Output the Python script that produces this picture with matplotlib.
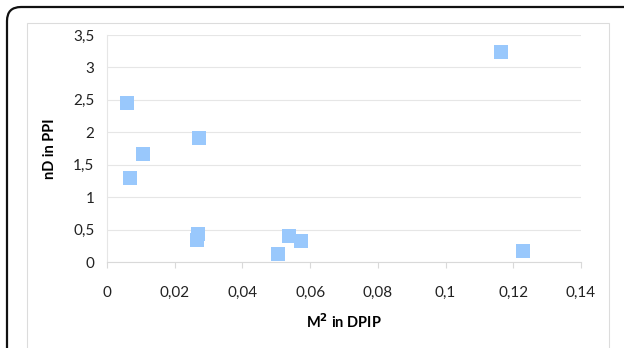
import matplotlib
matplotlib.use("Agg")
import matplotlib.pyplot as plt
from matplotlib.patches import PathPatch, Rectangle
from matplotlib.path import Path
from matplotlib.transforms import IdentityTransform

# data
m2_dpip = [0.0059, 0.0068, 0.0106, 0.0272, 0.0266, 0.0270, 0.0505, 0.0538, 0.0573, 0.1164, 0.1229]
nd_ppi = [2.45, 1.29, 1.66, 1.91, 0.34, 0.43, 0.12, 0.40, 0.32, 3.24, 0.17]

x_ticks = [0, 0.02, 0.04, 0.06, 0.08, 0.1, 0.12, 0.14]
x_labels = ["0", "0,02", "0,04", "0,06", "0,08", "0,1", "0,12", "0,14"]
y_ticks = [0, 0.5, 1, 1.5, 2, 2.5, 3, 3.5]
y_labels = ["0", "0,5", "1", "1,5", "2", "2,5", "3", "3,5"]

plt.rcParams['font.family'] = ['Lato', 'DejaVu Sans']

W, H = 624, 348
fig = plt.figure(figsize=(W / 100, H / 100), dpi=100)

# outer black frame (pixel coords): left edge, rounded corner, top edge off to the right
r = 14
x0, ytop = 7, H - 7
verts = [(x0, -5), (x0, ytop - r), (x0, ytop), (x0 + r, ytop), (W + 5, ytop)]
codes = [Path.MOVETO, Path.LINETO, Path.CURVE3, Path.CURVE3, Path.LINETO]
frame = PathPatch(Path(verts, codes), fill=False, edgecolor="#111111", linewidth=1.6)
frame.set_transform(IdentityTransform())
fig.patches.append(frame)

# inner light gray chart area border
inner = Rectangle((27 / W, -0.1), (609 - 27) / W, 1 - 23 / H + 0.1,
                  transform=fig.transFigure, fill=False,
                  edgecolor="#dcdcdc", linewidth=0.8)
fig.patches.append(inner)

ax = fig.add_axes([107 / W, 1 - 262 / H, (581 - 107) / W, (262 - 35) / H])
ax.scatter(m2_dpip, nd_ppi, marker="s", s=88, color="#99c8fc", linewidths=0, zorder=3)

ax.set_xlim(0, 0.14)
ax.set_ylim(0, 3.5)
ax.set_xticks(x_ticks)
ax.set_xticklabels(x_labels)
ax.set_yticks(y_ticks)
ax.set_yticklabels(y_labels)
ax.yaxis.grid(True, color="#e6e6e6", linewidth=0.8)
ax.set_axisbelow(True)

for s in ["top", "right"]:
    ax.spines[s].set_visible(False)
ax.spines["left"].set_color("#e6e6e6")
ax.spines["bottom"].set_color("#d9d9d9")
ax.tick_params(axis="y", length=0, pad=9, labelsize=11, labelcolor="#222222")
ax.tick_params(axis="x", length=4, color="#d9d9d9", pad=13, labelsize=11, labelcolor="#222222")

ax.set_ylabel("nD in PPI", fontweight="bold", fontsize=10.5, labelpad=12)
ax.set_xlabel("M$^\\mathbf{2}$ in DPIP", fontweight="bold", fontsize=10.5, labelpad=9)

fig.savefig("out.png", dpi=100)
